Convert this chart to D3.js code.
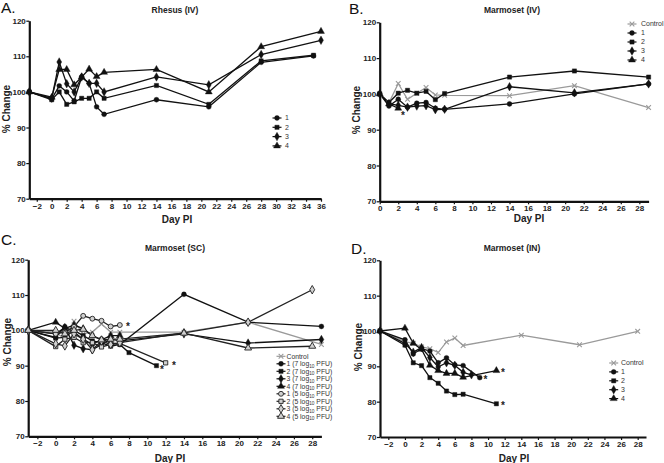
<!DOCTYPE html>
<html><head><meta charset="utf-8">
<script src="https://cdn.jsdelivr.net/npm/d3@7"></script>
<style>
body{margin:0;background:#fff}
svg{display:block}
text{font-family:"Liberation Sans",Arial,Helvetica,sans-serif}
</style>
</head><body>
<svg id="chart" width="664" height="463"></svg>
<script>
// ---------------- DATA ----------------
const yTickValues = [70, 80, 90, 100, 110, 120];
const xTicksA = [-2,0,2,4,6,8,10,12,14,16,18,20,22,24,26,28,30,32,34,36];
const xTicksB = [0,2,4,6,8,10,12,14,16,18,20,22,24,26,28];
const xTicksCD = [-2,0,2,4,6,8,10,12,14,16,18,20,22,24,26,28];

// A. Rhesus (IV)
const rhesusDays = [-3,0,1,2,3,4,5,6,7,14,21,28,35,36];
const rhesus1 = [100,98.0,101.7,100.0,97.5,104.2,102.4,95.8,93.7,97.8,95.8,108.3,110.1,null];
const rhesus2 = [100,97.8,100.0,96.5,97.2,98.2,98.2,100.0,98.2,101.8,96.5,108.7,110.3,null];
const rhesus3 = [100,98.2,108.4,102.3,100.0,104.2,102.4,102.4,100.0,104.2,102.0,110.5,null,114.5];
const rhesus4 = [100,98.5,106.3,106.3,102.0,104.2,106.4,104.3,105.5,106.3,100.0,112.7,null,117.0];

// B. Marmoset (IV)
const ivDays = [0,1,2,3,4,5,6,7,14,21,29];
const ivControl = [100,97.5,102.9,98.5,100.2,101.8,99.7,99.6,99.5,102.3,96.2];
const iv1 = [100,96.6,98.5,96.3,97.4,97.6,96.0,95.7,97.2,100.0,102.8];
const iv2 = [100,97.6,100.2,101.0,100.2,100.7,98.4,100.1,104.7,106.4,104.7];
const iv3 = [100,97.3,96.8,96.3,96.6,96.7,95.6,95.7,102.0,100.3,102.8];
const iv4 = [100,97.2,96.0,null,null,null,null,null,null,null,null];
const ivStars = [[2.5, 94.4]];

// C. Marmoset (SC)
const scDays = [-3,0,1,2,3,4,5,6,7,8,11,12,14,21,28,29];
const scControl = [100,99.5,97.5,102.6,99.0,99.5,101.8,99.5,99.5,null,null,null,99.5,102.3,null,96.0];
const sc1hi = [100,98.0,101.0,99.5,97.5,96.0,97.5,96.5,96.0,null,null,null,110.2,102.3,null,101.1];
const sc2hi = [100,97.8,98.0,100.0,98.5,97.0,96.5,95.5,96.0,93.7,90.0,null,null,null,null,null];
const sc3hi = [100,99.0,100.8,95.8,94.8,94.5,96.0,97.5,97.0,null,null,null,99.0,96.4,null,97.4];
const sc4hi = [100,102.3,100.5,101.5,100.5,98.5,97.3,98.5,98.5,null,null,null,null,null,null,null];
const sc1lo = [100,99.0,99.5,101.0,104.1,103.3,102.7,101.1,101.5,null,null,null,null,null,null,null];
const sc2lo = [100,95.4,97.5,98.0,96.5,96.5,95.3,96.0,96.3,null,null,90.8,null,null,null,null];
const sc3lo = [100,96.2,95.6,99.0,97.5,94.5,97.0,96.0,96.5,null,null,null,99.3,102.3,111.5,null];
const sc4lo = [100,100.0,99.0,100.0,100.3,98.5,97.3,97.5,97.5,null,null,null,99.2,95.0,95.5,null];
const scStars = [[7.9, 101.4], [12.9, 90.6], [11.6, 89.2]];

// D. Marmoset (IN)
const inDays = [-3,0,1,2,3,4,5,6,7,8,9,11,14,21,28];
const inControl = [100,97.0,96.5,95.5,95.0,93.9,96.9,98.0,95.9,null,null,null,98.8,96.1,99.9];
const in1 = [100,97.5,93.5,95.0,94.3,91.0,92.4,90.4,90.2,null,86.8,null,null,null,null];
const in2 = [100,96.0,91.0,90.2,86.8,85.2,83.0,82.0,82.1,null,null,79.4,null,null,null];
const in3 = [100,96.5,94.0,95.3,92.5,89.8,91.0,90.3,88.3,87.6,null,null,null,null,null];
const in4 = [100,100.8,96.5,94.8,90.3,88.8,88.0,88.0,86.9,null,null,88.8,null,null,null];
const inStars = [[9.7, 86.6], [11.8, 88.6], [11.8, 79.2]];

// ---------------- DRAWING ----------------
const svg = d3.select("#chart");
const BLACK = "#111", GRAY = "#9a9a9a";

function symPath(kind, size) {
  const map = {circle: d3.symbolCircle, square: d3.symbolSquare, diamond: d3.symbolDiamond,
               triangle: d3.symbolTriangle, times: d3.symbolTimes};
  return d3.symbol().type(map[kind]).size(size)();
}
function drawMarker(g, kind, open, color, x, y) {
  const isStroke = kind === "times";
  const size = kind === "circle" ? 19 : kind === "square" ? 18 : kind === "times" ? 16 : 21;
  g.append("path").attr("d", symPath(kind, size))
    .attr("transform", `translate(${x},${y})`)
    .attr("fill", isStroke ? "none" : (open ? "#d0d0d0" : color))
    .attr("stroke", color)
    .attr("stroke-width", isStroke ? 1.1 : (open ? 0.9 : 0.4));
}

function panel(cfg) {
  const g = svg.append("g");
  const x = d3.scaleLinear().domain(cfg.xDomain).range(cfg.xRange);
  const y = d3.scaleLinear().domain([70, 120]).range(cfg.yRange);

  const ax = g.append("g").attr("transform", `translate(0,${cfg.yRange[0]})`)
    .call(d3.axisBottom(x).tickValues(cfg.xTicks).tickSize(3).tickSizeOuter(0).tickPadding(1.2));
  const ay = g.append("g").attr("transform", `translate(${cfg.xRange[0]},0)`)
    .call(d3.axisLeft(y).tickValues(yTickValues).tickSize(3).tickSizeOuter(0).tickPadding(0.5));
  [ax, ay].forEach(a => {
    a.select(".domain").attr("stroke", BLACK).attr("stroke-width", 2.2);
    a.selectAll(".tick line").attr("stroke", BLACK).attr("stroke-width", 1.2);
    a.selectAll(".tick text").attr("fill", "#222").style("font-size", "8px").style("font-weight", "bold")
      .style("font-family", '"Liberation Sans",Arial,sans-serif');
  });

  const line = d3.line().x(d => x(d[0])).y(d => y(d[1]));
  const pts = cfg.series.map(s => cfg.days.map((d, i) => [d, s.values[i]]).filter(p => p[1] != null));

  cfg.series.forEach((s, i) => {
    g.append("path").datum(pts[i]).attr("d", line)
      .attr("fill", "none").attr("stroke", s.color).attr("stroke-width", 1.3);
  });
  cfg.series.forEach((s, i) => {
    pts[i].forEach(p => drawMarker(g, s.kind, s.open, s.color, x(p[0]), y(p[1])));
  });
  (cfg.stars || []).forEach(st => {
    g.append("text").attr("x", x(st[0])).attr("y", y(st[1]) + 5).attr("text-anchor", "middle")
      .style("font-size", "10px").style("font-weight", "bold").attr("fill", "#222").text("*");
  });

  g.append("text").attr("x", cfg.titleX).attr("y", cfg.titleY).attr("text-anchor", "middle")
    .style("font-size", "8.5px").style("font-weight", "bold").attr("fill", "#222").text(cfg.title);
  g.append("text").attr("x", cfg.letterX).attr("y", cfg.letterY)
    .style("font-size", "15.5px").attr("fill", "#111").text(cfg.letter);
  g.append("text").attr("transform", `translate(${cfg.ylabX},${cfg.ylabY}) rotate(-90)`)
    .attr("text-anchor", "middle").style("font-size", "10px").style("font-weight", "bold")
    .attr("fill", "#222").text("% Change");
  g.append("text").attr("x", cfg.xlabX).attr("y", cfg.xlabY).attr("text-anchor", "middle")
    .style("font-size", "10px").style("font-weight", "bold").attr("fill", "#222").text("Day PI");

  const L = cfg.legend;
  cfg.series.forEach((s, i) => {
    const ly = L.y + i * L.dy;
    g.append("line").attr("x1", L.x - 4.5).attr("x2", L.x + 4.5).attr("y1", ly).attr("y2", ly)
      .attr("stroke", s.color).attr("stroke-width", 1.2);
    drawMarker(g, s.kind, s.open, s.color, L.x, ly);
    const t = g.append("text").attr("x", L.tx).attr("y", ly + L.fs * 0.35)
      .style("font-size", L.fs + "px").attr("fill", "#333");
    if (s.sub) {
      t.append("tspan").text(s.label[0]);
      t.append("tspan").attr("dy", 1.5).style("font-size", (L.fs * 0.7) + "px").text(s.sub);
      t.append("tspan").attr("dy", -1.5).text(s.label[1]);
    } else t.text(s.label);
  });
}

panel({
  xDomain: [-3, 36], xRange: [29.3, 321], yRange: [198.7, 20.7], xTicks: xTicksA,
  days: rhesusDays,
  series: [
    {label: "1", values: rhesus1, kind: "circle", color: BLACK},
    {label: "2", values: rhesus2, kind: "square", color: BLACK},
    {label: "3", values: rhesus3, kind: "diamond", color: BLACK},
    {label: "4", values: rhesus4, kind: "triangle", color: BLACK}
  ],
  title: "Rhesus (IV)", titleX: 175, titleY: 12.5,
  letter: "A.", letterX: 1, letterY: 13,
  ylabX: 9.5, ylabY: 109, xlabX: 177, xlabY: 222.5,
  legend: {x: 277, tx: 285, y: 118, dy: 9.3, fs: 7}
});

panel({
  xDomain: [0, 29], xRange: [379.7, 648.6], yRange: [201.3, 22.3], xTicks: xTicksB,
  days: ivDays,
  series: [
    {label: "Control", values: ivControl, kind: "times", color: GRAY},
    {label: "1", values: iv1, kind: "circle", color: BLACK},
    {label: "2", values: iv2, kind: "square", color: BLACK},
    {label: "3", values: iv3, kind: "diamond", color: BLACK},
    {label: "4", values: iv4, kind: "triangle", color: BLACK}
  ],
  stars: ivStars,
  title: "Marmoset (IV)", titleX: 512, titleY: 12.5,
  letter: "B.", letterX: 349, letterY: 13.5,
  ylabX: 359.5, ylabY: 110, xlabX: 529, xlabY: 222,
  legend: {x: 632, tx: 641, y: 24, dy: 9, fs: 7}
});

panel({
  xDomain: [-3, 29], xRange: [28.2, 321.4], yRange: [436.3, 259.7], xTicks: xTicksCD,
  days: scDays,
  series: [
    {label: "Control", values: scControl, kind: "times", color: GRAY},
    {label: ["1 (7 log", " PFU)"], sub: "10", values: sc1hi, kind: "circle", color: BLACK},
    {label: ["2 (7 log", " PFU)"], sub: "10", values: sc2hi, kind: "square", color: BLACK},
    {label: ["3 (7 log", " PFU)"], sub: "10", values: sc3hi, kind: "diamond", color: BLACK},
    {label: ["4 (7 log", " PFU)"], sub: "10", values: sc4hi, kind: "triangle", color: BLACK},
    {label: ["1 (5 log", " PFU)"], sub: "10", values: sc1lo, kind: "circle", open: true, color: "#222"},
    {label: ["2 (5 log", " PFU)"], sub: "10", values: sc2lo, kind: "square", open: true, color: "#222"},
    {label: ["3 (5 log", " PFU)"], sub: "10", values: sc3lo, kind: "diamond", open: true, color: "#222"},
    {label: ["4 (5 log", " PFU)"], sub: "10", values: sc4lo, kind: "triangle", open: true, color: "#222"}
  ],
  stars: scStars,
  title: "Marmoset (SC)", titleX: 175, titleY: 251,
  letter: "C.", letterX: 1, letterY: 245,
  ylabX: 10.5, ylabY: 342, xlabX: 170, xlabY: 462,
  legend: {x: 281, tx: 286.5, y: 356.3, dy: 7.5, fs: 6.8}
});

panel({
  xDomain: [-3, 29], xRange: [380, 646], yRange: [437, 260.3], xTicks: xTicksCD,
  days: inDays,
  series: [
    {label: "Control", values: inControl, kind: "times", color: GRAY},
    {label: "1", values: in1, kind: "circle", color: BLACK},
    {label: "2", values: in2, kind: "square", color: BLACK},
    {label: "3", values: in3, kind: "diamond", color: BLACK},
    {label: "4", values: in4, kind: "triangle", color: BLACK}
  ],
  stars: inStars,
  title: "Marmoset (IN)", titleX: 512, titleY: 251,
  letter: "D.", letterX: 351, letterY: 254,
  ylabX: 361.5, ylabY: 347, xlabX: 514, xlabY: 462,
  legend: {x: 613.7, tx: 621, y: 363, dy: 8.9, fs: 7}
});
</script>
</body></html>
